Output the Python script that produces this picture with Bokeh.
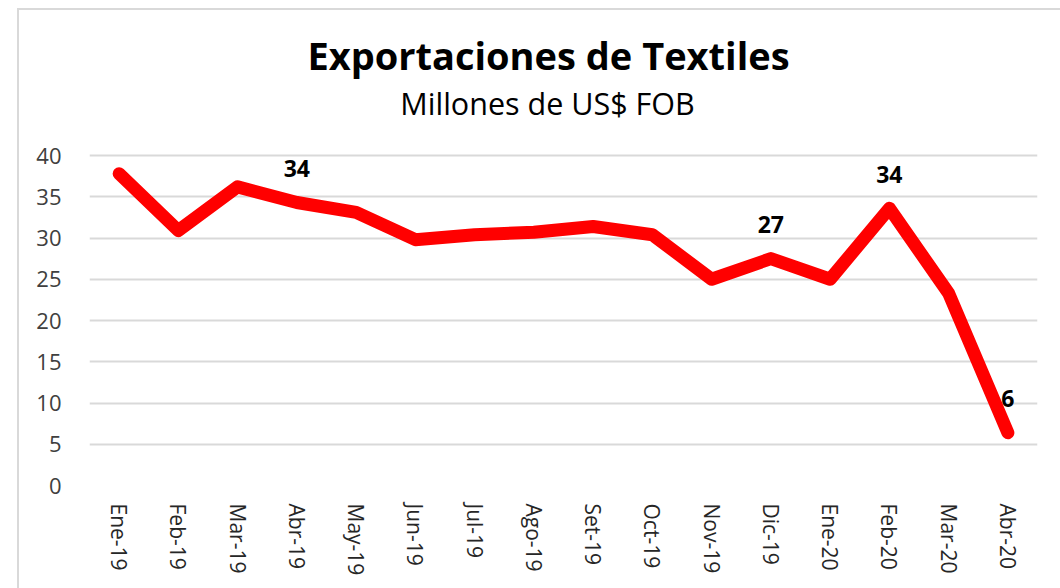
import math
from bokeh.plotting import figure
from bokeh.models import ColumnDataSource, LabelSet, Label, Range1d, FactorRange
from bokeh.core.properties import value
from bokeh.embed import file_html
from bokeh.resources import INLINE

# ---- data ----
months = ["Ene-19", "Feb-19", "Mar-19", "Abr-19", "May-19", "Jun-19", "Jul-19", "Ago-19",
          "Set-19", "Oct-19", "Nov-19", "Dic-19", "Ene-20", "Feb-20", "Mar-20", "Abr-20"]
exports = [37.8, 30.9, 36.2, 34.3, 33.1, 29.8, 30.4, 30.7,
           31.4, 30.4, 25.0, 27.5, 25.0, 33.6, 23.3, 6.4]
label_months = ["Abr-19", "Dic-19", "Feb-20", "Abr-20"]
label_texts = ["34", "27", "34", "6"]
y_ticks = [0, 5, 10, 15, 20, 25, 30, 35, 40]

title_text = "Exportaciones de Textiles"
subtitle_text = "Millones de US$ FOB"

W, H = 1060, 588
FONT = "Open Sans"
TOP = 10          # frame top (px)
BOTTOM = 103      # border below frame (px)
PX_PER_UNIT = (155 - 485) / -40.0
y_top = 40 + (155 - TOP) / PX_PER_UNIT   # headroom above 40 for titles

p = figure(width=W, height=H, x_range=FactorRange(*months), y_range=Range1d(0, y_top),
           output_backend="svg", toolbar_location=None,
           min_border_left=89, min_border_right=23, min_border_top=TOP,
           min_border_bottom=BOTTOM)
p.styles = {
    "background-image": "linear-gradient(#d9d9d9, #d9d9d9), linear-gradient(#d9d9d9, #d9d9d9)",
    "background-size": "2px 100%, 100% 2px",
    "background-position": "17px 8px, 17px 8px",
    "background-repeat": "no-repeat",
}
p.border_fill_color = None
p.background_fill_color = None
p.outline_line_color = None

src = ColumnDataSource(data=dict(x=months, y=exports))
p.line("x", "y", source=src, line_color="#ff0000", line_width=13,
       line_cap="round", line_join="round")

lab_vals = [exports[months.index(m)] for m in label_months]
lsrc = ColumnDataSource(data=dict(x=label_months, y=lab_vals, t=label_texts))
p.add_layout(LabelSet(x="x", y="y", text="t", source=lsrc, y_offset=34,
                      text_align="center", text_baseline="middle",
                      text_font=value(FONT), text_font_style="bold", text_font_size="23px",
                      text_color="#000000"))

# titles (screen units relative to the plot frame, from its bottom-left)
p.add_layout(Label(x=459, y=431, x_units="screen", y_units="screen", text=title_text,
                   text_align="center", text_baseline="alphabetic", text_font=FONT,
                   text_font_style="bold", text_font_size="38px", text_color="#000000"))
p.add_layout(Label(x=458, y=383, x_units="screen", y_units="screen", text=subtitle_text,
                   text_align="center", text_baseline="alphabetic", text_font=FONT,
                   text_font_size="30.5px", text_color="#000000"))

# axes
p.xgrid.grid_line_color = None
p.ygrid.grid_line_color = "#d9d9d9"
p.ygrid.grid_line_width = 2
p.yaxis.ticker = y_ticks
p.yaxis.axis_line_color = None
p.yaxis.major_tick_line_color = None
p.yaxis.minor_tick_line_color = None
p.yaxis.major_label_standoff = 22
p.yaxis.major_label_text_font = FONT
p.yaxis.major_label_text_font_size = "22px"
p.yaxis.major_label_text_color = "#404040"

p.xaxis.axis_line_color = None
p.xaxis.major_tick_line_color = None
p.xaxis.major_label_orientation = -math.pi / 2
p.xaxis.major_label_standoff = 12
p.xaxis.major_label_text_font = FONT
p.xaxis.major_label_text_font_size = "21px"
p.xaxis.major_label_text_color = "#262626"

open("out.html", "w").write(file_html(p, INLINE))
